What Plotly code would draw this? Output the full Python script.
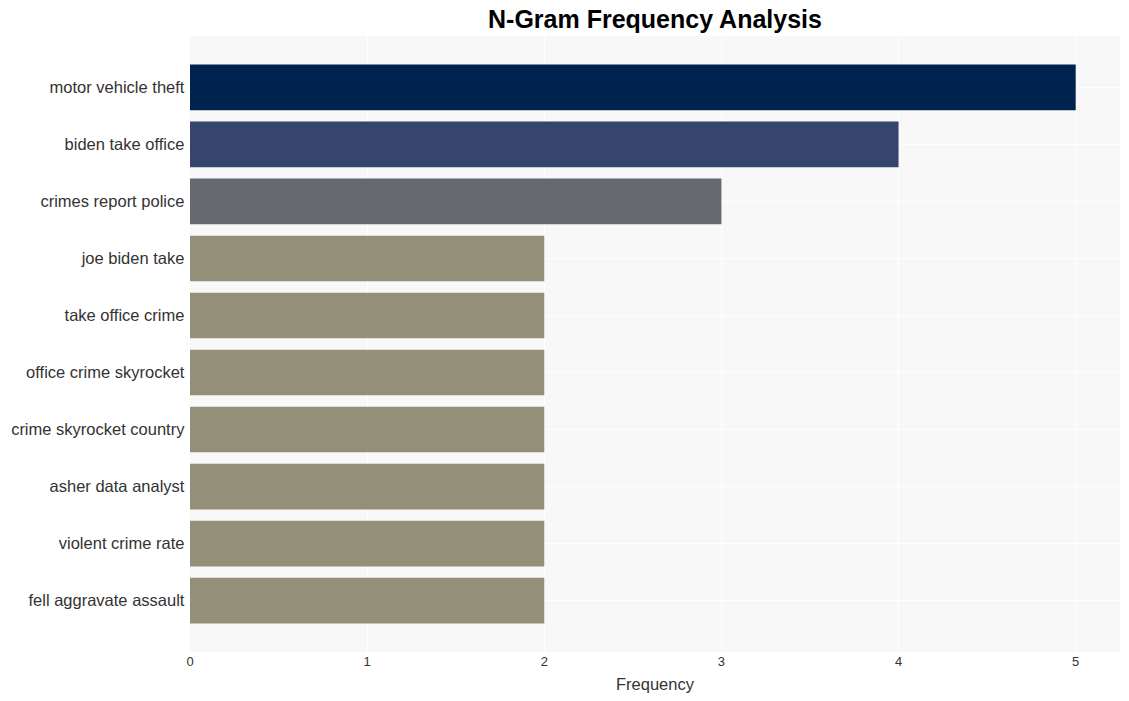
import plotly.graph_objects as go

ngrams = ["motor vehicle theft", "biden take office", "crimes report police", "joe biden take",
          "take office crime", "office crime skyrocket", "crime skyrocket country",
          "asher data analyst", "violent crime rate", "fell aggravate assault"]
counts = [5, 4, 3, 2, 2, 2, 2, 2, 2, 2]
colors = ["#00224e", "#35456c", "#666970", "#948f78", "#948f78", "#948f78", "#948f78",
          "#948f78", "#948f78", "#948f78"]

fig = go.Figure(go.Bar(x=counts, y=ngrams, orientation="h", marker=dict(color=colors, line=dict(width=0))))
fig.update_layout(
    width=1129, height=701,
    margin=dict(l=190, r=9, t=36, b=49, autoexpand=False),
    title=dict(text="<b>N-Gram Frequency Analysis</b>", x=0.5, xref="paper", xanchor="center",
               y=0.972, yref="container", yanchor="middle",
               font=dict(family="Liberation Sans, Arial", size=25, color="#000")),
    font=dict(family="Liberation Sans, Arial", color="#333"),
    paper_bgcolor="white", plot_bgcolor="#f8f8f8",
    bargap=0.2,
    xaxis=dict(title=dict(text="Frequency", font=dict(size=16.5, color="#333"), standoff=10),
               gridcolor="white", gridwidth=1, automargin=False,
               tickfont=dict(size=13, color="#333"), zeroline=False, dtick=1, range=[0, 5.25]),
    yaxis=dict(range=[9.9, -0.9], gridcolor="white", automargin=False,
               tickfont=dict(size=16.5, color="#333"), ticksuffix=" "),
)
fig.write_html("out.html", config={"displayModeBar": False},
               post_script="document.body.style.margin='0';document.body.style.padding='0';")
